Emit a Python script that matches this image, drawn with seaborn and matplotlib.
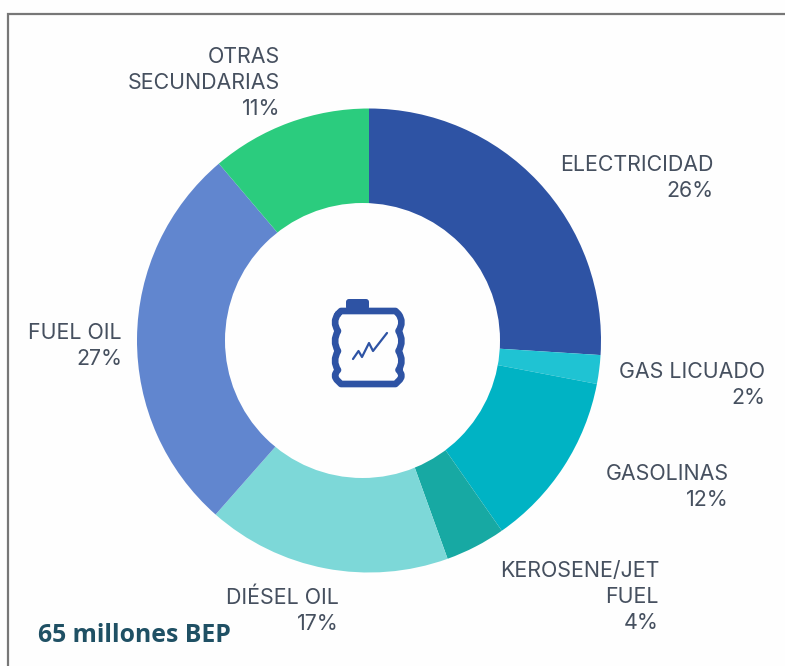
import matplotlib
matplotlib.use("Agg")
import matplotlib.pyplot as plt
from matplotlib.path import Path
from matplotlib.patches import PathPatch, FancyBboxPatch, Circle
import seaborn as sns

categories = ["ELECTRICIDAD", "GAS LICUADO", "GASOLINAS", "KEROSENE/JET\nFUEL",
              "DIÉSEL OIL", "FUEL OIL", "OTRAS\nSECUNDARIAS"]
percent_labels = [26, 2, 12, 4, 17, 27, 11]
slice_shares = [26.0, 2.0, 12.3, 4.2, 17.0, 27.3, 11.2]
slice_colors = ["#2E53A4", "#1FC3D3", "#00B3C4", "#17A9A3", "#7DD8D8", "#6186CF", "#2BCC7E"]
label_anchor = [(713, 178), (765, 385), (729, 487), (659, 597), (339, 611), (122, 346), (280, 83)]
subtitle = "65 millones BEP"

sns.set_theme(style="white")
plt.rcParams["font.family"] = ["Inter", "DejaVu Sans"]
W, H = 785, 666
fig = plt.figure(figsize=(W / 100, H / 100), dpi=100, facecolor="#fefefe")

# donut (full pie; the hole is slightly off-centre in the source)
cx, cy, R = 369, 340.5, 232
pie_ax = fig.add_axes([(cx - R) / W, 1 - (cy + R) / H, 2 * R / W, 2 * R / H], zorder=1)
pie_ax.pie(slice_shares, colors=sns.color_palette(slice_colors), startangle=90, counterclock=False,
           radius=1, wedgeprops=dict(linewidth=0))
pie_ax.set_xlim(-1, 1); pie_ax.set_ylim(-1, 1)

# overlay in pixel coordinates
ov = fig.add_axes([0, 0, 1, 1], zorder=2)
ov.set_xlim(0, W); ov.set_ylim(H, 0); ov.axis("off")
ov.add_patch(Circle((362.5, 340.5), 137.5, fc="#fefefe", ec="none", zorder=2))

# frame of the screenshot
ov.plot([7.5, 7.5, W], [H, 14, 14], color="#777777", lw=1.6, solid_joinstyle="miter")

# labels
ink = "#46505F"
for name, pct, (x, y) in zip(categories, percent_labels, label_anchor):
    ov.text(x, y, f"{name}\n{pct}%", ha="right", va="center", multialignment="right",
            fontsize=15.4, color=ink, linespacing=1.35, fontweight="normal")
ov.text(38, 635, subtitle, ha="left", va="center", fontsize=17.8, fontweight="bold",
        color="#1F5064", family="Open Sans")

# central icon
blue = "#2E53A4"
ov.add_patch(FancyBboxPatch((346, 299), 23, 11, boxstyle="round,pad=0,rounding_size=3",
                            fc=blue, ec="none", zorder=5))
L, Rr, T, B = 338, 398.5, 311, 384
ys = [T + 3, 331, 351, 370, B - 3]
v = [(L, T + 3), (L + 3, T), (Rr - 3, T), (Rr, T + 3)]
c = [Path.MOVETO, Path.LINETO, Path.LINETO, Path.LINETO]
right_ctrl = [(Rr + 6, 322), (Rr + 6, 341), (Rr + 6, 361), (Rr + 6, 376)]
for ctrl, y in zip(right_ctrl, ys[1:]):
    v += [ctrl, (Rr, y)]
    c += [Path.CURVE3, Path.CURVE3]
v += [(Rr - 3, B), (L + 3, B), (L, B - 3)]
c += [Path.LINETO, Path.LINETO, Path.LINETO]
left_ctrl = [(L - 6, 376), (L - 6, 361), (L - 6, 341), (L - 6, 322)]
for ctrl, y in zip(left_ctrl, ys[::-1][1:]):
    v += [ctrl, (L, y)]
    c += [Path.CURVE3, Path.CURVE3]
ov.add_patch(PathPatch(Path(v, c), fc="none", ec=blue, lw=4.8, joinstyle="round", capstyle="round", zorder=5))
ov.plot([353, 358.5, 362, 369, 373, 387], [359, 351, 357, 343, 351, 333],
        color=blue, lw=1.6, zorder=5)

fig.savefig("out.png", dpi=100, facecolor=fig.get_facecolor())
